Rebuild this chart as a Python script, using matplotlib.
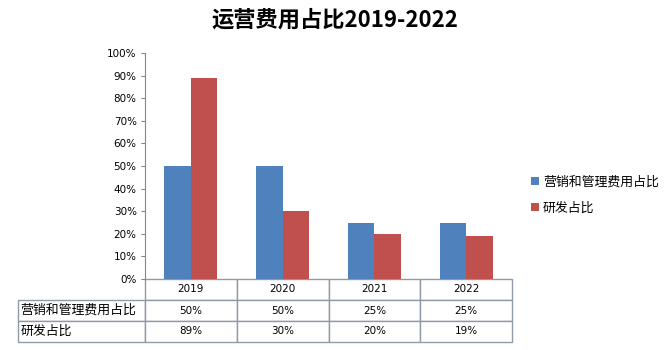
import matplotlib.pyplot as plt
import numpy as np

plt.rcParams["font.family"] = ["Noto Sans CJK SC", "DejaVu Sans"]

years = ["2019", "2020", "2021", "2022"]
series_names = ["营销和管理费用占比", "研发占比"]
sales_admin = [50, 50, 25, 25]
rnd = [89, 30, 20, 19]
colors = ["#4F81BD", "#C0504D"]

fig = plt.figure(figsize=(6.69, 3.5), dpi=100)
ax = fig.add_axes([145 / 669, 1 - 279 / 350, 367 / 669, 226 / 350])

x = np.arange(len(years))
w = 0.29
ax.bar(x - w / 2, sales_admin, w, color=colors[0], label=series_names[0])
ax.bar(x + w / 2, rnd, w, color=colors[1], label=series_names[1])

ax.set_xlim(-0.5, len(years) - 0.5)
ax.set_ylim(0, 100)
ax.set_yticks(np.arange(0, 101, 10))
ax.set_yticklabels([f"{v}%" for v in range(0, 101, 10)], family="DejaVu Sans", fontsize=7.5)
ax.set_xticks([])
for s in ["top", "right", "bottom"]:
    ax.spines[s].set_visible(False)
ax.spines["left"].set_color("#868686")
ax.tick_params(axis="y", length=3, color="#868686", pad=3)

# data table under the plot
rows_text = [
    [""] + years,
    [series_names[0]] + [f"{v}%" for v in sales_admin],
    [series_names[1]] + [f"{v}%" for v in rnd],
]
label_w = 127 / 367
tb = ax.table(cellText=rows_text, bbox=[-label_w, -63 / 226, 1 + label_w, 63 / 226],
              colWidths=[label_w] + [0.25] * 4, cellLoc="center")
tb.auto_set_font_size(False)
for (r, c), cell in tb.get_celld().items():
    cell.set_edgecolor("#8F9AA8")
    cell.set_linewidth(1.0)
    cell.get_text().set_fontsize(7.5)
    if c == 0:
        cell.get_text().set_ha("left")
        cell._loc = "left"
        cell.PAD = 0.02
        cell.get_text().set_fontsize(9.3)
    else:
        cell.get_text().set_family("DejaVu Sans")
    if r == 0 and c == 0:
        cell.set_edgecolor("none")

fig.text(335 / 669, 1 - 20 / 350, "运营费用占比2019-2022", ha="center", va="center",
         fontsize=16, fontweight="bold")

fig.legend(loc="upper left", bbox_to_anchor=(526 / 669, 1 - 170 / 350), frameon=False,
           fontsize=9.3, handlelength=0.6, handleheight=0.6, handletextpad=0.3,
           labelspacing=1.05, borderaxespad=0)

fig.savefig("out.png", dpi=100)
